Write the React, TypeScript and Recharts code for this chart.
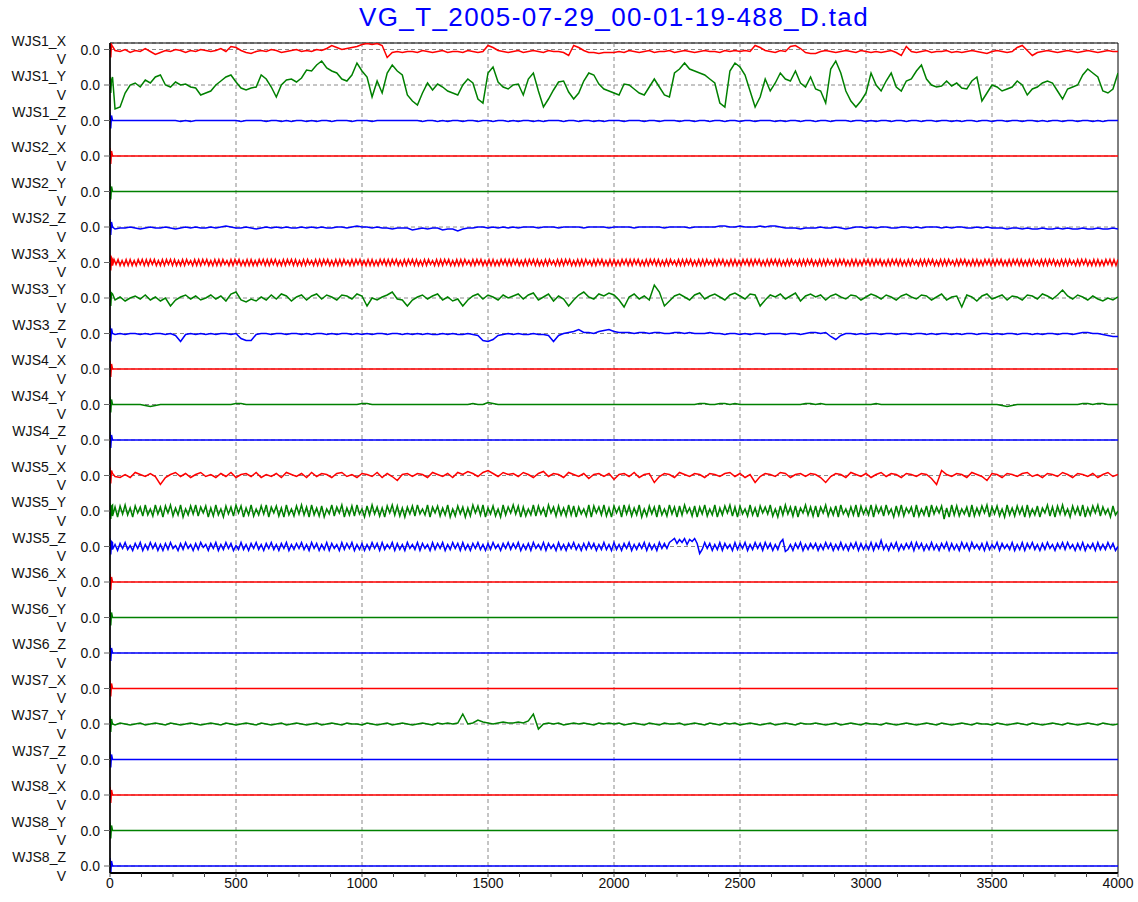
import React from 'react'
import { LineChart, Line, XAxis, YAxis, CartesianGrid, ReferenceLine, ReferenceArea } from 'recharts'

const TITLE = 'VG_T_2005-07-29_00-01-19-488_D.tad'

const CHANNEL_NAMES = [
  'WJS1_X', 'WJS1_Y', 'WJS1_Z', 'WJS2_X', 'WJS2_Y', 'WJS2_Z',
  'WJS3_X', 'WJS3_Y', 'WJS3_Z', 'WJS4_X', 'WJS4_Y', 'WJS4_Z',
  'WJS5_X', 'WJS5_Y', 'WJS5_Z', 'WJS6_X', 'WJS6_Y', 'WJS6_Z',
  'WJS7_X', 'WJS7_Y', 'WJS7_Z', 'WJS8_X', 'WJS8_Y', 'WJS8_Z',
]

const X_TICKS = [0, 500, 1000, 1500, 2000, 2500, 3000, 3500, 4000]
const X_MINOR_TICKS = [
  0, 125, 250, 375, 500, 625, 750, 875, 1000, 1125, 1250, 1375, 1500, 1625, 1750, 1875,
  2000, 2125, 2250, 2375, 2500, 2625, 2750, 2875, 3000, 3125, 3250, 3375, 3500, 3625, 3750, 3875, 4000,
]
const GRID_X = [500, 1000, 1500, 2000, 2500, 3000, 3500]

// start-up transient every channel shows right at sample 0 (mV)
const ONSET = [8, -8, 5]

// channel samples in mV, evenly spread over 0..4000
const FLAT = [0, 0]

const WJS1_X = [
  3, -1, -2, 0, -3, -1, -2, 1, -2, -5, -3, -1, -2, 0, -1, -3, -1, -2, 0, -1,
  -2, -1, 1, -2, 3, 2, -1, -3, -4, -2, -1, -2, 0, -1, -3, -2, -1, 0, -2, -1,
  -2, 0, -1, 1, 4, 2, 0, 1, 2, 3, 5, 6, 5, 6, 4, -8, -3, -2, -3, -2,
  -2, -3, -1, -2, -3, -2, -1, -3, -2, -2, -3, -1, -2, -3, -2, 4, 2, -1, -2, -3,
  -2, -1, -3, -2, -1, -2, -3, -1, -2, -2, -3, -6, 4, 2, -1, -3, -3, -4, -3, -3,
  -3, -2, -3, -1, -2, -3, -2, -1, -3, -2, -2, -1, -3, -2, -1, -2, -3, -2, -1, -2,
  -2, -3, -1, -2, -1, -2, -1, -2, 4, 2, -1, -2, -3, -1, -2, 3, 4, 1, -3, -4,
  -4, -2, -1, -2, -3, -2, -1, -2, -3, -1, -2, -3, -2, -3, -2, -1, -3, -6, 3, -2,
  -3, -2, -1, -3, -2, -2, -1, -3, -2, -3, -2, -1, -2, -3, -4, -2, -1, -2, -3, -2,
  2, 4, -1, -6, -3, -2, -1, -2, -3, -2, -1, -2, -3, -2, -1, -2, -3, -2, -1, -2,
  -2,
]

const WJS1_Y = [
  8, -24, -22, -8, 0, 2, -2, 5, 2, 8, 10, 0, -2, 3, 0, 1, -2, -3, -10, -8,
  -6, 0, 4, 8, 10, 3, -3, -5, -3, -2, 10, 6, -2, -12, 0, 5, 6, 3, 7, 15,
  14, 20, 24, 17, 14, 12, 6, 4, 10, 22, 14, 8, -12, 4, -8, 12, 20, 14, 10, -10,
  -16, -20, -8, 2, -5, 1, -2, -6, -8, -10, 0, 6, 2, -14, -18, 12, 18, 3, -2, -4,
  0, 1, -10, 6, 12, -6, -22, -14, -5, 3, 4, -7, -14, -8, 4, 12, 10, 1, -4, -6,
  -8, -10, 1, 0, -4, -8, -10, -2, 6, -2, -10, -12, 12, 16, 22, 16, 14, 12, 10, 6,
  2, -18, -22, 14, 22, 18, 10, -6, -22, -12, 6, -6, 2, 12, 6, 4, 14, 2, -2, 8,
  -4, -6, -18, 16, 24, 12, -6, -16, -22, -16, -8, 12, 0, -6, 4, 12, -2, -6, 4, 6,
  14, 20, 6, 0, -2, -1, 4, -1, 2, -3, -4, 4, 8, -16, -8, 0, -2, -6, -4, -2,
  4, 0, -10, -4, -2, 2, 4, 2, -6, -14, -4, -2, 0, 10, 16, 12, 8, -6, -8, -4,
  12,
]

const WJS1_Z = [
  0, 0, 0, 0, 0, 0, 0, 0, 0, 0, 0, 0, 0, 0, -1, 0, -1, 0, 0, 0,
  0, 0, 0, 0, 0, 0, -1, 0, 0, 0, 0, -1, 0, 0, -1, 0, -1, 0, 0, -1,
  0, -1, 0, 0, -1, 0, 0, 0, -1, 0, 0, 0, -1, 0, 0, 0, 0, 0, 0, 0,
  0, 0, -1, 0, 0, -1, 0, -1, 0, 0, -1, 0, 0, -1, 0, 0, -1, 0, 0, -1,
  0, -1, 0, 0, -1, 0, -1, 0, 0, 0, -1, 0, 0, -1, 0, 0, -1, 0, -1, 0,
  0, 0, -1, 0, 0, 0, -1, 0, 0, -1, 0, 0, 0, -1, 0, 0, -1, 0, 0, -1,
  0, 0, -1, 0, 0, -1, 0, 0, -1, 0, 0, 0, -1, 0, -1, 0, 0, -1, 0, 0,
  -1, 0, 0, -1, 0, 0, 0, -1, 0, 0, -1, 0, -1, 0, 0, -1, 0, 0, -1, 0,
  0, -1, 0, 0, -1, 0, 0, -1, 0, -1, 0, 0, -1, 0, 0, -1, 0, 0, -1, 0,
  0, -1, 0, 0, -1, 0, -1, 0, 0, -1, 0, 0, -1, 0, 0, -1, 0, -1, 0, 0,
  0,
]

const WJS2_Z = [
  0, -2, -1, -1, 0, -1, -2, -1, 0, -1, -1, 0, -1, -2, -1, 0, -1, 0, -1, -1,
  0, -1, 0, 1, 0, -1, -1, 0, -1, -2, -1, 0, -1, 0, -1, 0, -1, -1, 0, -1,
  0, -1, 0, -1, -1, 0, 0, -1, 0, 1, 0, 0, -1, 0, -1, -1, -2, -1, -1, -1,
  -3, -2, -1, -2, -1, -1, -3, -2, -2, -4, -2, -1, -1, 0, 0, -1, 0, -1, 0, -1,
  0, -1, 0, 0, 0, -1, 0, 0, 0, -1, 0, 0, 0, 0, -1, 0, 0, 0, 0, -1,
  0, 0, 0, 0, -1, 0, 0, 0, 0, 0, -1, 0, 0, 0, 0, -1, 0, 0, 0, 0,
  0, 1, 1, 0, 0, 1, 0, 0, 0, 1, 0, 1, 1, 0, -1, -1, -1, -2, -1, -1,
  -1, 0, -1, -1, 0, -1, -2, -1, 0, 0, -1, 0, -1, 0, 0, -1, -1, 0, 0, -1,
  0, -1, 0, 0, 0, -1, 0, -1, 0, 0, -1, -1, 0, -1, 0, -1, -1, -1, -2, -1,
  -1, -2, -1, -2, -2, -1, -2, -2, -1, -2, -1, -2, -2, -1, -2, -2, -1, -2, -2, -1,
  -2,
]

const WJS3_X = [
  3, -3, 3, -2, 3, -3, 2, -3, 3, -3, 3, -3, 2, -3, 3, -2, 3, -3, 3, -3,
  3, -2, 3, -3, 2, -3, 3, -3, 3, -2, 3, -3, 3, -3, 2, -3, 3, -3, 3, -2,
  2, -3, 3, -3, 3, -3, 3, -2, 3, -3, 2, -3, 3, -3, 3, -3, 3, -2, 2, -3,
  3, -3, 3, -2, 3, -3, 2, -3, 3, -3, 3, -3, 2, -3, 3, -2, 3, -3, 3, -3,
  3, -2, 3, -3, 2, -3, 3, -3, 3, -2, 3, -3, 3, -3, 2, -3, 3, -3, 3, -2,
  2, -3, 3, -3, 3, -3, 3, -2, 3, -3, 2, -3, 3, -3, 3, -3, 3, -2, 2, -3,
  3, -3, 3, -2, 3, -3, 2, -3, 3, -3, 3, -3, 2, -3, 3, -2, 3, -3, 3, -3,
  3, -2, 3, -3, 2, -3, 3, -3, 3, -2, 3, -3, 3, -3, 2, -3, 3, -3, 3, -2,
  2, -3, 3, -3, 3, -3, 3, -2, 3, -3, 2, -3, 3, -3, 3, -3, 3, -2, 2, -3,
  3, -3, 3, -2, 3, -3, 2, -3, 3, -3, 3, -3, 2, -3, 3, -2, 3, -3, 3, -3,
  3, -2, 3, -3, 2, -3, 3, -3, 3, -2, 3, -3, 3, -3, 2, -3, 3, -3, 3, -2,
  2, -3, 3, -3, 3, -3, 3, -2, 3, -3, 2, -3, 3, -3, 3, -3, 3, -2, 2, -3,
  3, -3, 3, -2, 3, -3, 2, -3, 3, -3, 3, -3, 2, -3, 3, -2, 3, -3, 3, -3,
  3, -2, 3, -3, 2, -3, 3, -3, 3, -2, 3, -3, 3, -3, 2, -3, 3, -3, 3, -2,
  2, -3, 3, -3, 3, -3, 3, -2, 3, -3, 2, -3, 3, -3, 3, -3, 3, -2, 2, -3,
  3, -3, 3, -2, 3, -3, 2, -3, 3, -3, 3, -3, 2, -3, 3, -2, 3, -3, 3, -3,
  3, -2, 3, -3, 2, -3, 3, -3, 3, -2, 3, -3, 3, -3, 2, -3, 3, -3, 3, -2,
  2, -3, 3, -3, 3, -3, 3, -2, 3, -3, 2, -3, 3, -3, 3, -3, 3, -2, 2, -3,
  3, -3, 3, -2, 3, -3, 2, -3, 3, -3, 3, -3, 2, -3, 3, -2, 3, -3, 3, -3,
  3, -2, 3, -3, 2, -3, 3, -3, 3, -2, 3, -3, 3, -3, 2, -3, 3, -3, 3, -2,
  2, -3, 3, -3, 3, -3, 3, -2, 3, -3, 2, -3, 3, -3, 3, -3, 3, -2, 2, -3,
  3, -3, 3, -2, 3, -3, 2, -3, 3, -3, 3, -3, 2, -3, 3, -2, 3, -3, 3, -3,
  3, -2, 3, -3, 2, -3, 3, -3, 3, -2, 3, -3, 3, -3, 2, -3, 3, -3, 3, -2,
  2, -3, 3, -3, 3, -3, 3, -2, 3, -3, 2, -3, 3, -3, 3, -3, 3, -2, 2, -3,
  3, -3, 3, -2, 3, -3, 2, -3, 3, -3, 3, -3, 2, -3, 3, -2, 3, -3, 3, -3,
  3,
]

const WJS3_Y = [
  4, -2, 1, -3, 0, 2, -1, 3, -2, 1, -3, 0, -8, -2, 1, 3, -1, 2, -2, 0,
  3, -1, 2, -3, 4, 6, -2, -4, -1, -3, 1, -2, 3, -1, 4, 2, -3, 1, 3, -2,
  2, 4, -1, 3, 1, -2, 3, 2, -1, 4, 2, -8, 0, -2, 1, 3, 6, -1, -2, -8,
  -2, 1, 3, -1, 2, 4, -2, 1, -3, -1, -8, -2, 2, 4, -1, 3, 1, -2, 3, 0,
  2, 4, -1, 3, 5, -2, 1, 4, -3, 2, -1, -8, -2, 3, 6, 1, -1, 4, 2, 5,
  3, -2, -9, 1, 4, -1, 2, -2, 13, 6, -8, -3, 2, 4, 1, -2, 3, 5, -1, 2,
  4, 1, -2, 3, 5, 2, -1, 4, 3, -8, -2, 3, 1, 4, -1, 2, 5, -3, 2, 4,
  1, 3, -2, 2, 4, 1, -1, 3, 2, -2, 1, 4, 2, -1, 3, 1, -2, 2, 4, 1,
  -1, 3, 2, -2, 1, 4, -2, 1, 2, -9, 3, 1, -3, 2, 4, -1, 1, 3, -2, 2,
  1, -2, 3, 2, -1, 4, 2, -1, 3, 8, 2, -1, 3, 1, -2, 2, -1, -3, 0, -2,
  1,
]

const WJS3_Z = [
  0, -1, 0, -1, 0, 0, -1, 0, -1, 0, 0, -1, 0, -2, -8, -1, 0, -1, 0, -1,
  0, -1, 0, 0, -1, 0, -5, -7, -7, -1, 0, 0, -1, 0, 0, -1, 0, 0, -1, 0,
  -1, 0, 0, -1, 0, -1, 0, 0, -1, 0, -1, 0, -1, 0, 0, -1, 0, 0, -1, 0,
  -1, 0, -1, 0, -1, -1, 0, -1, 0, -1, -1, 0, -1, -2, -7, -8, -6, -2, -1, 0,
  -1, 0, -1, -1, 0, -1, -1, -2, -8, -2, 0, 1, 2, 4, 1, 1, 0, 2, 3, 4,
  2, 1, 1, 1, 0, 1, 1, 0, 1, 1, 0, 0, 1, 1, 0, 1, 0, 0, 0, 1,
  0, 0, -1, 0, 0, -1, 0, -1, 0, 0, -1, 0, 0, 0, -1, 0, 0, -1, 0, 1,
  1, 0, 1, -3, -6, -2, 0, 0, -1, 0, -1, 0, 0, -1, 0, 0, -1, 0, 0, -1,
  0, 0, -1, 0, -1, 0, 0, -1, 0, -1, 0, 0, -1, 0, 0, -1, 0, -1, 0, 0,
  -1, 0, 0, -1, 0, -1, 0, 0, -1, 0, 0, -1, 0, 1, 1, 0, 0, -1, -2, -3,
  -3,
]

const WJS4_Y = [
  0, 0, 0, 0, 0, 0, 0, -1, -2, -1, 0, 0, 0, 0, 0, 0, 0, 0, 0, 0,
  0, 0, 0, 0, 0, 1, 1, 0, 0, 0, 0, 0, 0, 0, 0, 0, 0, 0, 0, 0,
  0, 0, 0, 0, 0, 0, 0, 0, 0, 0, 1, 1, 0, 0, 0, 0, 0, 0, 0, 0,
  0, 0, 0, 0, 0, 0, 0, 0, 0, 0, 0, 0, 1, 0, 0, 2, 1, 0, 0, 0,
  0, 0, 0, 0, 0, 0, 0, 0, 0, 0, 0, 0, 0, 0, 0, 0, 0, 0, 0, 0,
  0, 0, 0, 0, 0, 0, 0, 0, 0, 0, 0, 0, 0, 0, 0, 0, 0, 1, 1, 0,
  0, 1, 1, 0, 1, 0, 0, 0, 0, 0, 0, 0, 0, 0, 0, 0, 0, 0, 1, 1,
  0, 1, 0, 0, 0, 0, 0, 0, 0, 0, 0, 0, 1, 0, 0, 0, 0, 0, 0, 0,
  0, 0, 0, 0, 0, 0, 0, 0, 0, 0, 0, 0, 0, 0, 0, 0, 0, -1, -2, -1,
  0, 0, 0, 0, 0, 0, 0, 0, 0, 0, 0, 0, 0, 1, 1, 0, 1, 1, 0, 0,
  0,
]

const WJS5_X = [
  2, -1, -2, 1, -2, 3, 1, -1, 2, -1, -9, -2, 1, 3, -1, 2, -2, 1, 3, -1,
  1, -2, 2, -1, 3, -2, 1, 2, -1, 3, -2, 1, -1, 2, -2, 3, 1, -1, 2, -2,
  3, -1, 2, 1, -2, 2, 3, -1, 1, -2, 2, 1, -1, 3, -2, 2, -1, -5, 1, 2,
  -1, 2, 1, -2, 3, 1, -1, 2, -2, 3, 1, 4, 2, -1, 3, 5, 2, -1, 3, 1,
  2, -1, 3, 1, -2, 2, 4, -1, 2, 1, -2, 3, 1, -1, 2, -3, 1, 2, -1, 2,
  -4, 1, 2, -1, 3, -2, 1, 2, -7, -1, 2, 1, -2, 3, 1, -1, 2, 1, -2, 2,
  1, -1, 2, 3, -1, 2, -2, 1, -7, -1, 2, 1, -1, 3, 2, -2, 1, 2, -1, 2,
  1, -2, -7, -1, 2, 1, -2, 3, 1, -1, 2, -2, 1, 3, -1, 2, 1, -2, 2, 1,
  -1, 2, 1, -3, -9, 5, 1, -1, 2, 1, -2, 3, 1, -1, -5, 2, 1, -2, 2, 1,
  -1, 2, 3, -1, 1, -2, 2, 1, -1, 3, 1, -2, 2, 1, -1, 2, -2, 1, 3, -1,
  1,
]

const WJS5_Y = [
  6, -5, 4, -6, 5, -3, 6, -4, 3, -6, 5, -2, 4, -5, 6, -4, 2, -5, 6, -3,
  4, -6, 5, -2, 6, -5, 3, -4, 6, -6, 2, -4, 5, -3, 6, -5, 4, -2, 5, -6,
  3, -5, 6, -4, 2, -6, 5, -3, 4, -5, 6, -2, 5, -6, 3, -4, 6, -5, 2, -4,
  5, -3, 6, -6, 4, -2, 5, -5, 3, -6, 6, -4, 2, -5, 5, -3, 6, -4, 4, -6,
  6, -4, 3, -5, 5, -6, 2, -3, 6, -5, 4, -2, 6, -6, 3, -4, 5, -5, 6, -3,
  2, -6, 5, -4, 6, -3, 4, -5, 3, -6, 5, -2, 6, -4, 5, -5, 3, -6, 4, -3,
  5, -5, 6, -3, 2, -4, 6, -6, 4, -2, 5, -5, 3, -4, 6, -6, 2, -5, 5, -3,
  4, -6, 3, -5, 6, -2, 5, -4, 6, -6, 3, -3, 5, -5, 2, -6, 6, -4, 4, -2,
  6, -3, 5, -6, 4, -5, 2, -4, 6, -5, 5, -3, 3, -6, 6, -2, 4, -5, 5, -4,
  3, -5, 6, -4, 5, -6, 4, -3, 2, -5, 6, -6, 5, -2, 4, -4, 6, -5, 3, -6,
  5, -2, 4, -6, 6, -3, 5, -5, 3, -4, 6, -6, 2, -5, 5, -3, 4, -6, 6, -4,
  2, -5, 6, -3, 4, -6, 5, -4, 6, -2, 3, -5, 5, -6, 4, -3, 6, -5, 2, -4,
  6, -6, 3, -4, 5, -2, 6, -5, 4, -6, 5, -3, 2, -5, 6, -4, 3, -6, 5, -2,
  4, -3, 6, -5, 2, -6, 5, -4, 6, -3, 4, -5, 5, -6, 3, -2, 6, -4, 4, -5,
  5, -6, 4, -2, 6, -5, 3, -4, 5, -6, 6, -3, 2, -5, 4, -4, 6, -6, 5, -3,
  3, -4, 6, -6, 5, -2, 4, -5, 6, -3, 2, -6, 5, -4, 6, -5, 3, -2, 4, -6,
  6, -5, 2, -4, 5, -6, 6, -3, 4, -2, 5, -8, 3, -6, 6, -4, 5, -5, 2, -3,
  4, -6, 6, -5, 3, -4, 5, -2, 6, -6, 4, -3, 5, -5, 2, -6, 6, -4, 3, -5,
  5, -3, 4, -6, 6, -5, 2, -4, 5, -6, 3, -2, 6, -5, 4, -6, 5, -3, 6, -4,
  2, -6, 5, -3, 4, -5, 6, -6, 3, -4, 5, -2, 6, -5, 4, -3, 2, -6, 5, -4,
  0,
]

const WJS5_Z = [
  4, -3, 2, -4, 3, -2, 4, -3, 1, -4, 3, -2, 4, -4, 2, -3, 4, -2, 3, -4,
  2, -4, 3, -3, 4, -2, 1, -4, 3, -3, 4, -2, 2, -4, 3, -3, 4, -1, 2, -4,
  3, -2, 4, -4, 2, -3, 4, -2, 3, -4, 1, -3, 4, -3, 2, -4, 3, -2, 4, -3,
  2, -4, 3, -2, 4, -3, 2, -4, 3, -2, 4, -4, 2, -3, 3, -2, 4, -3, 2, -4,
  4, -2, 3, -4, 2, -3, 4, -4, 3, -2, 2, -4, 4, -3, 3, -2, 4, -4, 2, -3,
  3, -4, 2, -3, 4, -2, 3, -4, 4, -3, 2, -2, 4, -4, 3, -3, 2, -4, 4, -2,
  2, -3, 4, -4, 3, -2, 2, -4, 4, -3, 3, -2, 4, -4, 2, -3, 4, -2, 3, -4,
  4, -3, 2, -4, 3, -2, 4, -3, 2, -4, 3, -3, 4, -2, 2, -4, 3, -2, 4, -3,
  3, -2, 4, -4, 2, -3, 3, -4, 4, -2, 2, -3, 4, -4, 3, -2, 2, -4, 4, -3,
  2, -4, 3, -2, 4, -3, 2, -4, 3, -3, 4, -2, 3, -4, 2, -3, 4, -3, 2, -4,
  4, -3, 2, -4, 3, -2, 4, -4, 2, -3, 3, -2, 4, -4, 3, -3, 2, -4, 4, -2,
  3, -2, 4, 6, 8, 3, 7, 4, 8, 2, 7, 5, 8, 3, -7, -3, 4, -2, 3, -4,
  2, -3, 4, -4, 3, -2, 2, -4, 4, -3, 3, -2, 4, -4, 2, -3, 4, -2, 3, -4,
  4, -2, 3, -4, 2, -3, 4, 7, -5, -3, 2, -4, 3, -2, 4, -4, 2, -3, 3, -2,
  3, -4, 2, -3, 4, -2, 3, -4, 2, -3, 4, -3, 2, -4, 3, -2, 4, -4, 3, -3,
  2, -3, 4, -4, 3, -2, 6, -3, 2, -4, 3, -2, 4, -4, 2, -3, 3, -2, 4, -4,
  4, -2, 3, -4, 2, -3, 4, -3, 2, -4, 3, -2, 4, -4, 3, -3, 2, -4, 4, -2,
  3, -4, 4, -2, 2, -3, 3, -4, 4, -3, 2, -2, 4, -4, 3, -2, 2, -3, 4, -4,
  2, -3, 4, -4, 3, -2, 4, -3, 2, -4, 3, -3, 4, -2, 2, -4, 3, -2, 4, -3,
  4, -2, 2, -4, 3, -3, 4, -4, 2, -2, 3, -4, 4, -3, 2, -3, 4, -2, 3, -4,
  0,
]

const WJS7_Y = [
  0, -1, 1, 0, -1, 0, 1, -1, 0, 1, 0, -1, 1, 0, -1, 0, 1, 0, -1, 0,
  1, 0, -1, 1, 0, -1, 0, 1, 0, -1, 1, 0, -1, 0, 1, -1, 0, 1, 0, -1,
  0, 1, -1, 0, 1, 0, -1, 1, 0, 0, -1, 1, 0, -1, 0, 1, -1, 0, 1, 0,
  -1, 0, 1, 0, -1, 1, 0, 1, 0, 1, 10, 0, 1, 4, 2, 1, 0, 1, 2, 1,
  1, 2, 1, 3, 10, -5, 0, 1, 0, 1, -1, 0, 1, 0, 1, 0, -1, 1, 0, 1,
  0, 1, -1, 0, 1, 0, -1, 1, 0, -1, 1, 0, 0, 1, -1, 0, 1, 0, -1, 1,
  0, -1, 1, 0, 1, -1, 0, 1, 0, -1, 0, 1, -1, 0, 1, 0, -1, 1, 0, 0,
  1, 0, -1, 0, 1, -1, 0, 1, 0, -1, 1, 0, 0, -1, 1, 0, -1, 0, 1, 0,
  -1, 0, 1, 0, -1, 1, 0, -1, 0, 1, 0, -1, 1, 0, 0, -1, 1, 0, -1, 0,
  1, 0, -1, 1, 0, -1, 0, 1, 0, -1, 1, 0, -1, 0, 1, 0, -1, 1, 0, -1,
  0,
]

const CHANNEL_VALUES = [
  WJS1_X, WJS1_Y, WJS1_Z, FLAT, FLAT, WJS2_Z,
  WJS3_X, WJS3_Y, WJS3_Z, FLAT, WJS4_Y, FLAT,
  WJS5_X, WJS5_Y, WJS5_Z, FLAT, FLAT, FLAT,
  FLAT, WJS7_Y, FLAT, FLAT, FLAT, FLAT,
]

const AXIS_COLORS: Record<string, string> = { X: '#ff0000', Y: '#008000', Z: '#0000ff' }

// vertical gap between stacked channel baselines, in mV
const ROW = 35.5
const Y_MAX = 6.5
const Y_MIN = -(CHANNEL_NAMES.length - 1) * ROW - 7
const X_END = 4000

const FONT = '"Liberation Sans", Arial, sans-serif'

const channels = CHANNEL_NAMES.map((name, i) => {
  const base = -i * ROW
  const values = CHANNEL_VALUES[i]
  const step = X_END / (values.length - 1)
  const points = ONSET.map((o, k) => ({ x: k * 3, v: base + o }))
  values.forEach((val, k) => points.push({ x: Math.max(k * step, 10), v: base + val }))
  return { name, color: AXIS_COLORS[name.slice(-1)], base, points }
})

const baseTicks = channels.map((c) => c.base)

const ChannelTick = (props: any) => {
  const { x, y, payload } = props
  const i = Math.round(-payload.value / ROW)
  const ch = channels[i]
  if (!ch) return null
  return (
    <g fontFamily={FONT} fontSize={14} fill="#111">
      <text x={x - 34} y={y - 4} textAnchor="end">{ch.name}</text>
      <text x={x} y={y + 5} textAnchor="end">0.0</text>
      <text x={x - 34} y={y + 14.5} textAnchor="end">V</text>
    </g>
  )
}

const TimeTick = (props: any) => {
  const { x, y, payload } = props
  if (!X_TICKS.includes(payload.value)) return null
  return (
    <text x={x} y={y + 9} textAnchor="middle" fontFamily={FONT} fontSize={14} fill="#111">
      {payload.value}
    </text>
  )
}

export default function App() {
  return (
    <div style={{ position: 'absolute', left: 0, top: 0, width: 1138, height: 902, background: '#fff' }}>
      <div
        style={{
          position: 'absolute',
          left: 110,
          top: 1.5,
          width: 1008,
          textAlign: 'center',
          fontFamily: FONT,
          fontSize: 26,
          lineHeight: '30px',
          letterSpacing: 1.4,
          color: '#0000ff',
        }}
      >
        {TITLE}
      </div>
      <LineChart width={1138} height={902} margin={{ top: 43, right: 20, bottom: 0, left: 0 }}>
        <CartesianGrid vertical={false} stroke="#8a8a8a" strokeDasharray="4 3" />
        {GRID_X.map((gx) => (
          <ReferenceLine key={gx} x={gx} stroke="#8a8a8a" strokeDasharray="4 3" />
        ))}
        <XAxis
          type="number"
          dataKey="x"
          domain={[0, X_END]}
          ticks={X_MINOR_TICKS}
          interval={0}
          allowDataOverflow
          height={29}
          tickSize={4}
          tickMargin={2}
          tick={<TimeTick />}
          tickLine={{ stroke: '#444' }}
          axisLine={{ stroke: '#000', strokeWidth: 2 }}
        />
        <YAxis
          type="number"
          dataKey="v"
          domain={[Y_MIN, Y_MAX]}
          ticks={baseTicks}
          interval={0}
          allowDataOverflow
          width={110}
          tickSize={6}
          tickMargin={4}
          tick={<ChannelTick />}
          tickLine={{ stroke: '#666' }}
          axisLine={{ stroke: '#000', strokeWidth: 1.5 }}
        />
        {channels.map((ch) => (
          <Line
            key={ch.name}
            data={ch.points}
            dataKey="v"
            type="linear"
            stroke={ch.color}
            strokeWidth={1.5}
            dot={false}
            activeDot={false}
            isAnimationActive={false}
          />
        ))}
        <ReferenceArea x1={0} x2={X_END} y1={Y_MIN} y2={Y_MAX} fill="none" stroke="#000" strokeWidth={1} />
      </LineChart>
    </div>
  )
}
